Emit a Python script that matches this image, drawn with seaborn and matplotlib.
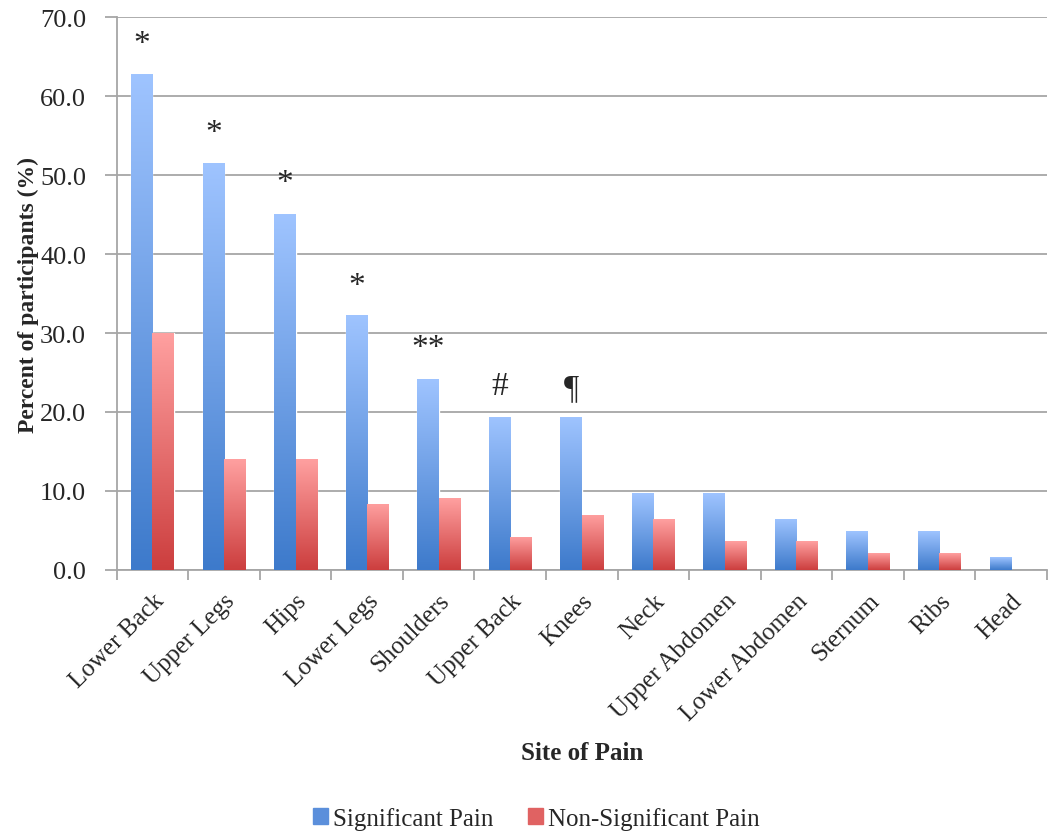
import numpy as np
import pandas as pd
import matplotlib
matplotlib.use('Agg')
import matplotlib.pyplot as plt
import matplotlib.patches as mpatches
import seaborn as sns

sites = ['Lower Back', 'Upper Legs', 'Hips', 'Lower Legs', 'Shoulders', 'Upper Back',
         'Knees', 'Neck', 'Upper Abdomen', 'Lower Abdomen', 'Sternum', 'Ribs', 'Head']
significant = [62.8, 51.6, 45.1, 32.3, 24.2, 19.4, 19.4, 9.7, 9.7, 6.5, 4.9, 4.9, 1.6]
non_significant = [30.0, 14.0, 14.0, 8.4, 9.1, 4.2, 7.0, 6.4, 3.6, 3.6, 2.1, 2.1, 0.0]
marks = ['*', '*', '*', '*', '**', '#', '\u00b6', '', '', '', '', '', '']
mark_y = [67.6, 56.3, 49.9, 36.9, 29.0, 23.3, 23.0, 0, 0, 0, 0, 0, 0]

groups = ['Significant Pain', 'Non-Significant Pain']

df = pd.DataFrame({
    'site': sites * 2,
    'value': significant + non_significant,
    'group': [groups[0]] * len(sites) + [groups[1]] * len(sites),
})

sns.set_style('white')
plt.rcParams['font.family'] = ['Liberation Serif', 'DejaVu Serif']

fig = plt.figure(figsize=(10.51, 8.37), dpi=100)
ax = fig.add_axes([0.111, 0.318, 0.885, 0.66])

sns.barplot(data=df, x='site', y='value', hue='group', order=sites, hue_order=groups,
            palette=['#6a9be0', '#e87070'], width=0.6, gap=0, legend=False, ax=ax)

# gradient fills, clipped to each bar
grads = {
    0: ('#3d7acb', '#9fc4ff'),
    1: ('#cc3e3e', '#ffa0a0'),
}
n = len(sites)
for i, p in enumerate(ax.patches[:2 * n]):
    lo, hi = grads[i // n]
    x0, y0 = p.get_x(), p.get_y()
    w, h = p.get_width(), p.get_height()
    if h <= 0:
        continue
    c0 = np.array(matplotlib.colors.to_rgb(lo))
    c1 = np.array(matplotlib.colors.to_rgb(hi))
    t = np.linspace(0, 1, 256)[:, None]
    img = (c0 + (c1 - c0) * t)[:, None, :]
    im = ax.imshow(img, extent=[x0, x0 + w, y0, y0 + h], origin='lower',
                   aspect='auto', zorder=3)
    im.set_clip_path(p)
    p.set_facecolor('none')

# significance marks over the blue bars (asterisk glyph sits high, nudge down)
for i, m in enumerate(marks):
    if m:
        yy = mark_y[i] - (0.9 if '*' in m else 0)
        ax.text(i - 0.15, yy, m, ha='center', va='center', fontsize=24, zorder=5)

ax.set_xlim(-0.5, n - 0.5)
ax.set_ylim(0, 70)
ax.set_yticks(np.arange(0, 71, 10))
ax.set_yticklabels([f'{v:.1f}' for v in np.arange(0, 71, 10)], fontsize=19)
ax.yaxis.grid(True, color='#a6a6a6', linewidth=1.3)
ax.set_axisbelow(True)

ax.set_xticks(range(n))
ax.set_xticklabels(sites, rotation=45, ha='right', rotation_mode='anchor', fontsize=18)
ax.set_xticks(np.arange(-0.5, n, 1), minor=True)
ax.tick_params(axis='x', which='major', length=0, pad=14)
ax.tick_params(axis='x', which='minor', length=7, color='#a6a6a6', width=1.3, direction='out')
ax.tick_params(axis='y', length=9, color='#a6a6a6', width=1.3, direction='out', pad=13)
ax.xaxis.set_tick_params(which='minor', bottom=True)
ax.yaxis.set_tick_params(left=True)

for s in ['top', 'right']:
    ax.spines[s].set_visible(False)
for s in ['left', 'bottom']:
    ax.spines[s].set_color('#a6a6a6')
    ax.spines[s].set_linewidth(1.3)

ax.set_xlabel('Site of Pain', fontsize=18, fontweight='bold', labelpad=12)
ax.set_ylabel('Percent of participants (%)', fontsize=17, fontweight='bold', labelpad=1)

handles = [mpatches.Patch(color='#5b8fdb'), mpatches.Patch(color='#e06262')]
fig.legend(handles, groups, loc='center', bbox_to_anchor=(0.51, 0.021), ncol=2,
           frameon=False, fontsize=18, handlelength=0.6, handleheight=0.6,
           handletextpad=0.2, columnspacing=1.4)

fig.savefig('out.png', dpi=100)
